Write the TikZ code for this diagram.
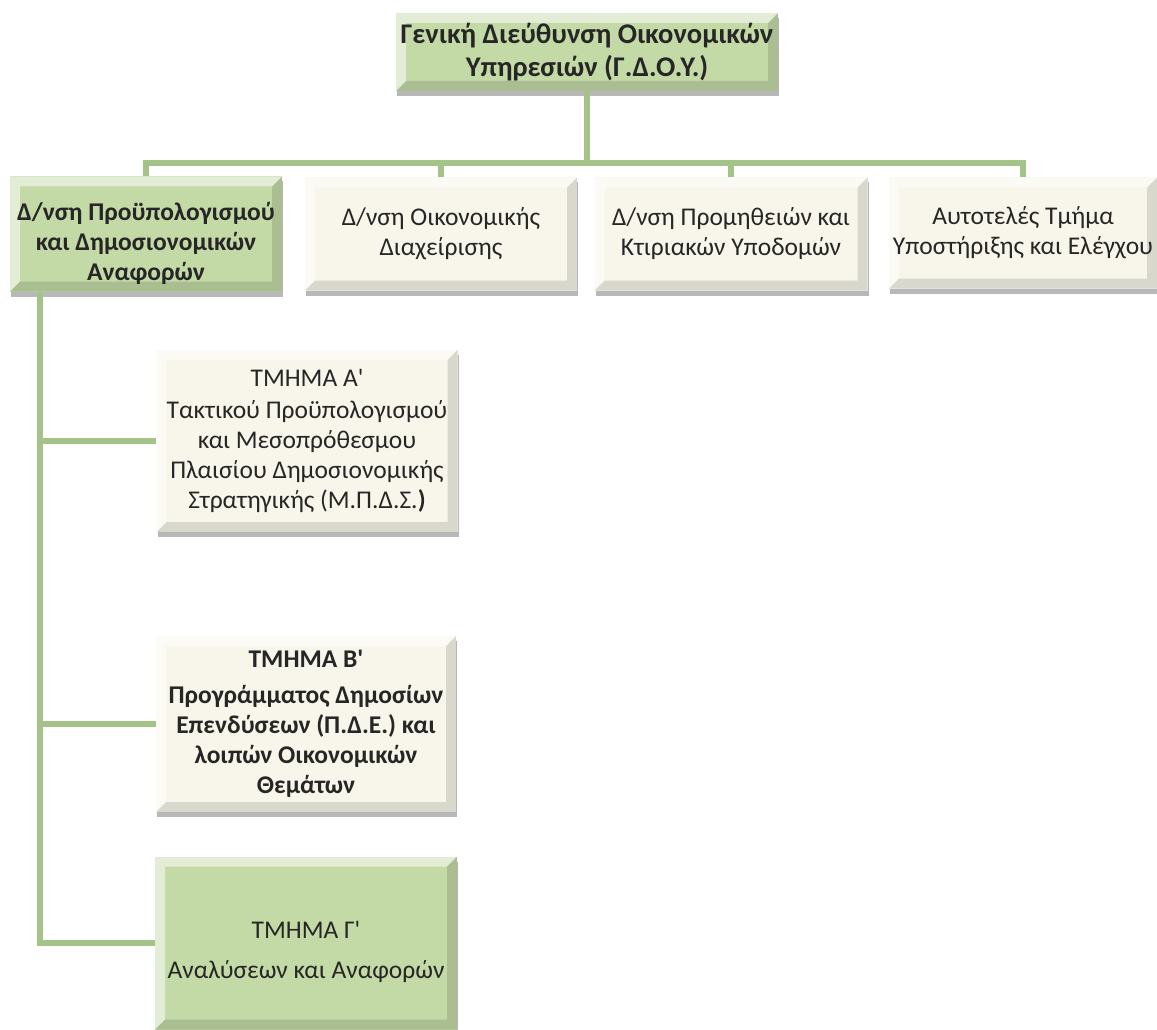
\documentclass[tikz,border=0pt]{standalone}
\usepackage{fontspec}
\setmainfont{Carlito}
\usepackage{tikz}
\usetikzlibrary{calc, shadows}

\definecolor{verde}{RGB}{195,217,166}
\definecolor{crema}{RGB}{248,246,234}
\definecolor{verdescuro}{RGB}{164,195,136}
\definecolor{testo}{RGB}{38,38,38}

\tikzset{
  casella/.style={rectangle, align=center, text=testo, inner sep=0pt,
    font=\fontsize{25.5}{30}\selectfont,
    drop shadow={shadow xshift=1pt, shadow yshift=-5pt, fill=black, opacity=.28},
    path picture={
      \fill[white,opacity=.55] (path picture bounding box.south west) -- (path picture bounding box.north west)
        -- (path picture bounding box.north east) -- ([shift={(-10pt,-10pt)}]path picture bounding box.north east)
        -- ([shift={(10pt,-10pt)}]path picture bounding box.north west) -- ([shift={(10pt,10pt)}]path picture bounding box.south west) -- cycle;
      \fill[black,opacity=.12] (path picture bounding box.south west) -- (path picture bounding box.south east)
        -- (path picture bounding box.north east) -- ([shift={(-10pt,-10pt)}]path picture bounding box.north east)
        -- ([shift={(-10pt,10pt)}]path picture bounding box.south east) -- ([shift={(10pt,10pt)}]path picture bounding box.south west) -- cycle;
    }},
  grassetto/.style={font=\fontsize{25.5}{30}\selectfont\bfseries},
  collegamento/.style={draw=verdescuro, line width=6pt}
}

\begin{document}
\begin{tikzpicture}[x=1pt, y=-1pt]
  \useasboundingbox (0,0) rectangle (1157,1030);

  % direzione generale
  \node[casella, fill=verde, font=\fontsize{28.5}{33}\selectfont\bfseries, minimum width=382pt, minimum height=78pt]
    (gdoy) at (587,52) {Γενική Διεύθυνση Οικονομικών\\Υπηρεσιών (Γ.Δ.Ο.Υ.)};

  % direzioni
  \node[casella, grassetto, fill=verde, minimum width=272pt, minimum height=115pt]
    (dprou) at (146,234) {\rule{0pt}{38pt}Δ/νση Προϋπολογισμού\\και Δημοσιονομικών\\Αναφορών};
  \node[casella, fill=crema, minimum width=272pt, minimum height=113pt]
    (doik) at (441,234) {Δ/νση Οικονομικής\\Διαχείρισης};
  \node[casella, fill=crema, minimum width=273pt, minimum height=113pt]
    (dprom) at (731,234) {Δ/νση Προμηθειών και\\Κτιριακών Υποδομών};
  \node[casella, fill=crema, minimum width=268pt, minimum height=111pt]
    (atye) at (1023,233) {Αυτοτελές Τμήμα\\Υποστήριξης και Ελέγχου};

  % tmimata
  \node[casella, fill=crema, minimum width=301pt, minimum height=182pt]
    (tA) at (307,441) {ΤΜΗΜΑ Α\textquotesingle\\[2pt]Τακτικού Προϋπολογισμού\\και Μεσοπρόθεσμου\\Πλαισίου Δημοσιονομικής\\Στρατηγικής (Μ.Π.Δ.Σ.{\bfseries )}};
  \node[casella, grassetto, fill=crema, minimum width=300pt, minimum height=176pt]
    (tB) at (306,724) {ΤΜΗΜΑ Β\textquotesingle\\[6pt]Προγράμματος Δημοσίων\\Επενδύσεων (Π.Δ.Ε.) και\\λοιπών Οικονομικών\\Θεμάτων};
  \node[casella, fill=verde, minimum width=302pt, minimum height=173pt]
    (tG) at (306,943) {\rule{0pt}{36pt}ΤΜΗΜΑ Γ\textquotesingle\\[10pt]Αναλύσεων και Αναφορών};

  % collegamenti in alto
  \coordinate (bus) at (587,163);
  \draw[collegamento] (gdoy.south) -- (gdoy.south |- bus);
  \draw[collegamento] (dprou.north) |- (bus) -| (atye.north);
  \draw[collegamento] (doik.north) -- (doik.north |- bus);
  \draw[collegamento] (dprom.north) -- (dprom.north |- bus);

  % collegamenti a sinistra
  \coordinate (spina) at ($(dprou.south west)+(30,0)$);
  \foreach \t in {tA,tB,tG}
    \draw[collegamento] (spina) |- (\t.west);
\end{tikzpicture}
\end{document}
